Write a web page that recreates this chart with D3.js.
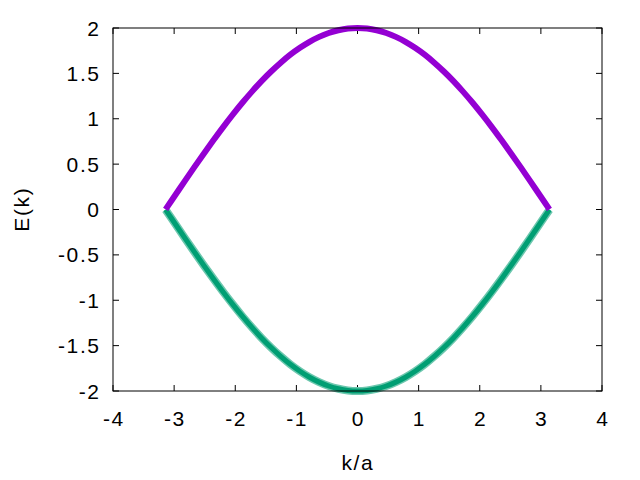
<!DOCTYPE html>
<html><head><meta charset="utf-8">
<script src="https://cdn.jsdelivr.net/npm/d3@7"></script>
<style>body{margin:0;background:#fff}svg{display:block}text{font-family:"Liberation Sans",Arial,sans-serif;font-size:21px;letter-spacing:1.6px;fill:#000}</style>
</head><body>
<svg id="c" width="640" height="480"></svg>
<script>
const kValues = [-3.14,-2.983,-2.826,-2.669,-2.512,-2.355,-2.198,-2.041,-1.884,-1.727,-1.57,-1.413,-1.256,-1.099,-0.942,-0.785,-0.628,-0.471,-0.314,-0.157,0,0.157,0.314,0.471,0.628,0.785,0.942,1.099,1.256,1.413,1.57,1.727,1.884,2.041,2.198,2.355,2.512,2.669,2.826,2.983,3.14];
const upperE = [0.002,0.157,0.313,0.467,0.618,0.765,0.908,1.045,1.176,1.299,1.415,1.521,1.618,1.706,1.782,1.848,1.902,1.945,1.975,1.994,2.0,1.994,1.975,1.945,1.902,1.848,1.782,1.706,1.618,1.521,1.415,1.299,1.176,1.045,0.908,0.765,0.618,0.467,0.313,0.157,0.002];
const lowerE = [-0.002,-0.157,-0.313,-0.467,-0.618,-0.765,-0.908,-1.045,-1.176,-1.299,-1.415,-1.521,-1.618,-1.706,-1.782,-1.848,-1.902,-1.945,-1.975,-1.994,-2.0,-1.994,-1.975,-1.945,-1.902,-1.848,-1.782,-1.706,-1.618,-1.521,-1.415,-1.299,-1.176,-1.045,-0.908,-0.765,-0.618,-0.467,-0.313,-0.157,-0.002];
const xTicks = [-4,-3,-2,-1,0,1,2,3,4];
const yTicks = [-2,-1.5,-1,-0.5,0,0.5,1,1.5,2];

const svg = d3.select("#c");
const L=113,R=602,T=28,B=391;
const x = d3.scaleLinear().domain([-4,4]).range([L,R]);
const y = d3.scaleLinear().domain([-2,2]).range([B,T]);
const tl = 6;
const LS = 1.6;
function label(px, py, txt, anchor, rot){
  const off = anchor==="end" ? LS : anchor==="middle" ? LS/2 : 0;
  const gg = svg.append("g").attr("transform",`translate(${px},${py})` + (rot?` rotate(${rot})`:""));
  gg.append("text").attr("x",off).attr("text-anchor",anchor).text(txt);
}

xTicks.forEach(t=>{
  svg.append("line").attr("x1",x(t)).attr("x2",x(t)).attr("y1",B).attr("y2",B-tl).attr("stroke","#000");
  svg.append("line").attr("x1",x(t)).attr("x2",x(t)).attr("y1",T).attr("y2",T+tl).attr("stroke","#000");
  label(x(t),426,t,"middle");
});
yTicks.forEach(t=>{
  svg.append("line").attr("x1",L).attr("x2",L+tl).attr("y1",y(t)).attr("y2",y(t)).attr("stroke","#000");
  svg.append("line").attr("x1",R).attr("x2",R-tl).attr("y1",y(t)).attr("y2",y(t)).attr("stroke","#000");
  label(99,y(t)+7.5,t,"end");
});

const line = d3.line().x(d=>x(d[0])).y(d=>y(d[1])).curve(d3.curveCatmullRom);
const up = kValues.map((k,i)=>[k,upperE[i]]);
const lo = kValues.map((k,i)=>[k,lowerE[i]]);

svg.append("path").attr("d",line(lo)).attr("fill","none").attr("stroke","#6cc7ae").attr("stroke-width",8);
svg.append("path").attr("d",line(lo)).attr("fill","none").attr("stroke","#009e73").attr("stroke-width",5);
svg.append("path").attr("d",line(up)).attr("fill","none").attr("stroke","#9400d3").attr("stroke-width",6);

svg.append("rect").attr("x",L).attr("y",T).attr("width",R-L).attr("height",B-T).attr("fill","none").attr("stroke","#000");

label(357,470,"k/a","middle");
label(29,210,"E(k)","middle",-90);
</script>
</body></html>
